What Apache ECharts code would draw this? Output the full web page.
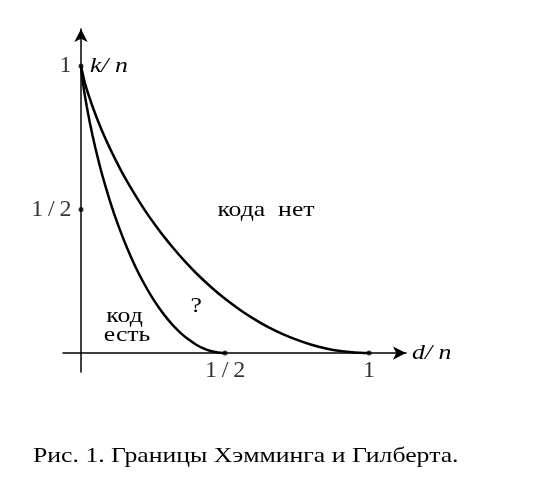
<!DOCTYPE html>
<html>
<head>
<meta charset="utf-8">
<script src="https://cdn.jsdelivr.net/npm/echarts@6/dist/echarts.min.js"></script>
<style>
  html, body { margin: 0; padding: 0; background: #fff; }
  #chart { width: 544px; height: 495px; }
</style>
</head>
<body>
<div id="chart"></div>
<script>
// Gilbert bound (inner curve): d/n and k/n
const gilbertX = [0, 0.005, 0.01, 0.015, 0.02, 0.03, 0.04, 0.05, 0.06, 0.07, 0.08, 0.09, 0.10, 0.115, 0.13, 0.145, 0.16, 0.18, 0.20, 0.225, 0.25, 0.275, 0.30, 0.325, 0.35, 0.375, 0.40, 0.425, 0.45, 0.475, 0.50]
const gilbertY = [1, 0.955, 0.919, 0.888, 0.859, 0.806, 0.758, 0.714, 0.673, 0.634, 0.598, 0.564, 0.531, 0.485, 0.443, 0.403, 0.366, 0.320, 0.278, 0.231, 0.189, 0.152, 0.119, 0.090, 0.066, 0.046, 0.029, 0.016, 0.007, 0.002, 0]
// Hamming bound (outer curve)
const hammingX = [0, 0.01, 0.02, 0.03, 0.04, 0.06, 0.08, 0.10, 0.12, 0.14, 0.16, 0.18, 0.20, 0.23, 0.26, 0.29, 0.32, 0.36, 0.40, 0.45, 0.50, 0.55, 0.60, 0.65, 0.70, 0.75, 0.80, 0.85, 0.90, 0.95, 1.0]
const hammingY = [1, 0.955, 0.919, 0.888, 0.859, 0.806, 0.758, 0.714, 0.673, 0.634, 0.598, 0.564, 0.531, 0.485, 0.443, 0.403, 0.366, 0.320, 0.278, 0.231, 0.189, 0.152, 0.119, 0.090, 0.066, 0.046, 0.029, 0.016, 0.007, 0.002, 0]

// marked points on the axes and their labels
const tickPoints = [[0, 1], [0, 0.5], [0.5, 0], [1, 0]]
const tickLabels = ['1', '1\u2009/\u20092', '1\u2009/\u20092', '1']

// region labels (centred on these points)
const regionLabels = ['кода  нет', '?', 'код', 'есть']
const regionPoints = [[0.642, 0.498], [0.40, 0.164], [0.151, 0.129], [0.160, 0.063]]

// axis names (left end at these points)
const axisNames = ['k/ n', 'd/ n']
const axisNamePoints = [[0.031, 1], [1.149, 0]]

const caption = 'Рис. 1. Границы Хэмминга и Гилберта.'

const serif = 'Liberation Serif'

const chart = echarts.init(document.getElementById('chart'))

const zip = (xs, ys) => xs.map((x, i) => [x, ys[i]])

chart.setOption({
  backgroundColor: '#fff',
  animation: false,
  grid: { left: 63, right: 138, top: 29, bottom: 123 },
  xAxis: {
    type: 'value',
    min: -0.0625,
    max: 1.128,
    axisLine: {
      onZero: true,
      symbol: ['none', 'arrow'],
      symbolSize: [10, 13],
      lineStyle: { color: '#000', width: 1.5 }
    },
    axisTick: { show: false },
    axisLabel: { show: false },
    splitLine: { show: false }
  },
  yAxis: {
    type: 'value',
    min: -0.066,
    max: 1.129,
    axisLine: {
      onZero: true,
      symbol: ['none', 'arrow'],
      symbolSize: [10, 13],
      lineStyle: { color: '#000', width: 1.5 }
    },
    axisTick: { show: false },
    axisLabel: { show: false },
    splitLine: { show: false }
  },
  series: [
    {
      name: 'Гилберт',
      type: 'line',
      smooth: 0.2,
      showSymbol: false,
      lineStyle: { color: '#000', width: 2.5 },
      data: zip(gilbertX, gilbertY)
    },
    {
      name: 'Хэмминг',
      type: 'line',
      smooth: 0.2,
      showSymbol: false,
      lineStyle: { color: '#000', width: 2.5 },
      data: zip(hammingX, hammingY)
    },
    {
      type: 'scatter',
      symbolSize: 5,
      itemStyle: { color: '#000' },
      z: 5,
      label: {
        show: true,
        fontFamily: serif,
        fontSize: 24,
        color: '#000',
        formatter: p => tickLabels[p.dataIndex]
      },
      data: tickPoints.map(pt => ({
        value: pt,
        label: pt[0] === 0
          ? { position: 'left', distance: 7 }
          : { position: 'bottom', distance: 3 }
      }))
    }
  ]
})

// texts are slightly stretched horizontally, as in the original typesetting
const textAt = (pt, text, align, italic) => {
  const [x, y] = chart.convertToPixel({ gridIndex: 0 }, pt)
  return {
    type: 'text',
    x: x,
    y: y,
    scaleX: 1.17,
    z: 10,
    style: {
      text: text,
      font: (italic ? 'italic ' : '') + '22px "Liberation Serif"',
      fill: '#000',
      align: align,
      verticalAlign: 'middle'
    }
  }
}

chart.setOption({
  graphic: [
    ...regionPoints.map((pt, i) => textAt(pt, regionLabels[i], 'center', false)),
    ...axisNamePoints.map((pt, i) => textAt(pt, axisNames[i], 'left', true)),
    {
      type: 'text',
      x: 33,
      y: 456,
      scaleX: 1.17,
      style: {
        text: caption,
        font: '22px "Liberation Serif"',
        fill: '#000',
        verticalAlign: 'middle'
      }
    }
  ]
})
</script>
</body>
</html>
